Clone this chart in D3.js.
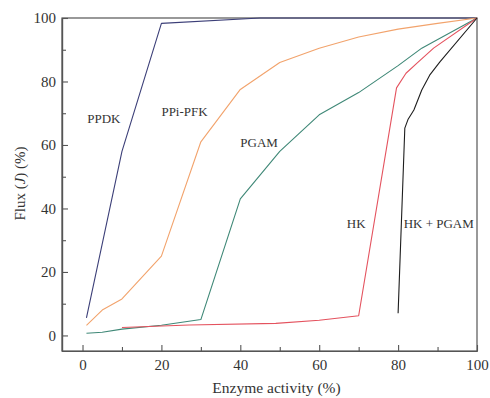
<!DOCTYPE html>
<html>
<head>
<meta charset="utf-8">
<script src="https://cdn.jsdelivr.net/npm/d3@7"></script>
<style>
  html, body { margin: 0; padding: 0; background: #fff; }
  svg { display: block; }
  text { font-family: "Liberation Serif", "DejaVu Serif", serif; fill: #333; }
</style>
</head>
<body>
<svg id="chart" width="490" height="398"></svg>
<script>
// Flux response (%) to enzyme activity (%) for each enzyme
const ppdkX   = [1, 10, 20, 45, 100];
const ppdkY   = [5.5, 58, 98.3, 100, 100];

const ppiPfkX = [1, 5, 10, 20, 30, 40, 50, 60, 70, 80, 90, 100];
const ppiPfkY = [3.2, 8, 11.5, 25, 61, 77.5, 86, 90.5, 94, 96.5, 98.3, 100];

const pgamX   = [1, 5, 10, 20, 30, 40, 50, 60, 70, 80, 86, 89, 100];
const pgamY   = [0.7, 1, 2, 3.2, 5, 43, 58, 69.5, 76.5, 85, 90.5, 92.5, 100];

const hkX     = [10, 27, 49, 60, 70, 79.6, 82, 85, 89, 100];
const hkY     = [2.5, 3.3, 3.8, 4.8, 6.2, 78, 82.6, 86, 90.5, 100];

const hkPgamX = [80, 81.7, 82.5, 84, 86, 88, 90.6, 100];
const hkPgamY = [7, 65.3, 68, 71, 77.3, 82, 86.2, 100];

const seriesNames = ["PPDK", "PPi-PFK", "PGAM", "HK", "HK + PGAM"];
const seriesColors = ["#3c3f78", "#f2a36c", "#3f8877", "#e4525e", "#1e1e1e"];
// label anchor points in data units [x, y]
const labelPos = [[1.2, 67], [20, 69], [40, 59.5], [67, 34], [81.4, 34]];

const xTicks = [0, 20, 40, 60, 80, 100];
const yTicks = [0, 20, 40, 60, 80, 100];
const xMinor = [10, 30, 50, 70, 90];
const yMinor = [10, 30, 50, 70, 90];

const series = [
  {x: ppdkX, y: ppdkY},
  {x: ppiPfkX, y: ppiPfkY},
  {x: pgamX, y: pgamY},
  {x: hkX, y: hkY},
  {x: hkPgamX, y: hkPgamY}
].map((s, i) => ({
  name: seriesNames[i],
  color: seriesColors[i],
  label: labelPos[i],
  points: s.x.map((v, j) => [v, s.y[j]])
}));

const svg = d3.select("#chart");
const margin = {left: 62, top: 18, right: 13, bottom: 47};
const W = 490, H = 398;

const x = d3.scaleLinear().domain([-5.2, 100]).range([margin.left, W - margin.right]);
const y = d3.scaleLinear().domain([-4.9, 100]).range([H - margin.bottom, margin.top]);

const axisColor = "#555";

// frame
svg.append("rect")
  .attr("x", x.range()[0]).attr("y", y.range()[1])
  .attr("width", x.range()[1] - x.range()[0])
  .attr("height", y.range()[0] - y.range()[1])
  .attr("fill", "none").attr("stroke", axisColor).attr("stroke-width", 1.2);

// x axis: inward ticks
svg.append("g").attr("transform", `translate(0,${y.range()[0]})`)
  .call(d3.axisBottom(x).tickValues(xTicks).tickSizeInner(-6).tickSizeOuter(0).tickPadding(8));
svg.append("g").attr("transform", `translate(0,${y.range()[0]})`)
  .call(d3.axisBottom(x).tickValues(xMinor).tickSizeInner(-4).tickSizeOuter(0).tickFormat(""));

// y axis: inward ticks
svg.append("g").attr("transform", `translate(${x.range()[0]},0)`)
  .call(d3.axisLeft(y).tickValues(yTicks).tickSizeInner(-6).tickSizeOuter(0).tickPadding(6));
svg.append("g").attr("transform", `translate(${x.range()[0]},0)`)
  .call(d3.axisLeft(y).tickValues(yMinor).tickSizeInner(-4).tickSizeOuter(0).tickFormat(""));

svg.selectAll(".domain").attr("stroke", axisColor).attr("stroke-width", 1.2);
svg.selectAll(".tick line").attr("stroke", axisColor).attr("stroke-width", 1.1);
svg.selectAll(".tick text")
  .attr("font-family", "'Liberation Serif', 'DejaVu Serif', serif")
  .attr("font-size", 15).attr("fill", "#333");

// axis titles
svg.append("text")
  .attr("x", (x.range()[0] + x.range()[1]) / 2 + 7)
  .attr("y", 393)
  .attr("text-anchor", "middle")
  .attr("font-size", 15.5)
  .text("Enzyme activity (%)");

const yTitle = svg.append("text")
  .attr("transform", `translate(25,${(y.range()[0] + y.range()[1]) / 2 - 1}) rotate(-90)`)
  .attr("text-anchor", "middle")
  .attr("font-size", 15);
yTitle.append("tspan").text("Flux (");
yTitle.append("tspan").attr("font-style", "italic").text("J");
yTitle.append("tspan").text(") (%)");

// curves
const line = d3.line().x(d => x(d[0])).y(d => y(d[1]));
svg.append("g").selectAll("path")
  .data(series)
  .join("path")
  .attr("d", d => line(d.points))
  .attr("fill", "none")
  .attr("stroke", d => d.color)
  .attr("stroke-width", 1.1)
  .attr("stroke-linejoin", "round");

// series labels
svg.append("g").selectAll("text")
  .data(series)
  .join("text")
  .attr("x", d => x(d.label[0]))
  .attr("y", d => y(d.label[1]))
  .attr("font-size", 13)
  .attr("fill", "#333")
  .text(d => d.name);
</script>
</body>
</html>
